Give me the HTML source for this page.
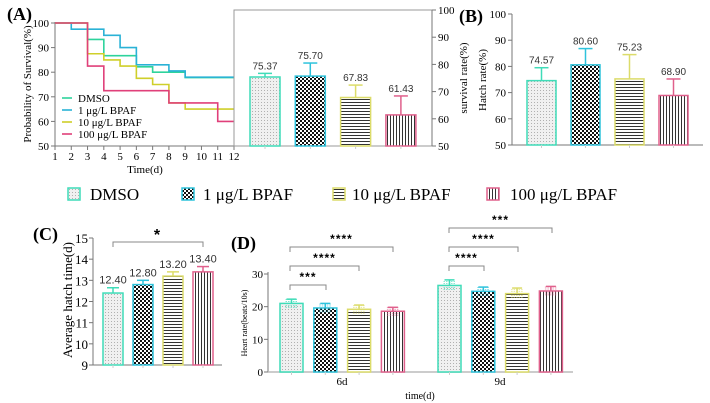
<!DOCTYPE html>
<html><head><meta charset="utf-8"><style>
html,body{margin:0;padding:0;background:#fff;}
svg{display:block;}
.serif{font-family:"Liberation Serif",serif;}
.sans{font-family:"Liberation Sans",sans-serif;}
</style></head><body>
<svg id="fig" width="710" height="403" viewBox="0 0 710 403" xmlns="http://www.w3.org/2000/svg">
<defs>
<pattern id="pDots" width="3" height="3" patternUnits="userSpaceOnUse"><rect width="3" height="3" fill="#f0f0f0"/><rect width="1" height="1" fill="#b0b0b0"/></pattern>
<pattern id="pCheck" width="4" height="4" patternUnits="userSpaceOnUse"><rect width="4" height="4" fill="#fff"/><rect width="2" height="2" fill="#111"/><rect x="2" y="2" width="2" height="2" fill="#111"/></pattern>
<pattern id="pH" width="4" height="3" patternUnits="userSpaceOnUse"><rect width="4" height="3" fill="#fff"/><rect width="4" height="1" fill="#333"/></pattern>
<pattern id="pV" width="3" height="4" patternUnits="userSpaceOnUse"><rect width="3" height="4" fill="#fff"/><rect width="1" height="4" fill="#333"/></pattern>
</defs>
<g id="root"></g>
</svg>
<script>
const groups = ["DMSO","1 μg/L BPAF","10 μg/L BPAF","100 μg/L BPAF"];
const colors = ["#3fdcb8","#2ec3dc","#dcdc6a","#e0608c"];
const lineColors = ["#2ed39c","#2ab2d6","#cfcf2a","#e0407a"];
const fills = ["url(#pDots)","url(#pCheck)","url(#pH)","url(#pV)"];
// KM survival (days, percent)
const kmDMSO = [[1,100],[3,93.3],[4,86.7],[6,82.2],[7,80],[9,77.8],[12,77.8]];
const km1 = [[1,100],[2,97.5],[4,95],[5,90],[6,83],[8,80.5],[9,78],[12,78]];
const km10 = [[1,100],[3,87.5],[4,85],[5,82.5],[6,77.5],[7,75],[8,67.5],[9,65],[12,65]];
const km100 = [[1,100],[3,82.5],[4,72.5],[8,67.5],[11,60],[12,60]];
const kmXTicks = [1,2,3,4,5,6,7,8,9,10,11,12];
const kmYTicks = [50,60,70,80,90,100];
// survival rate inset
const survVals = [75.37,75.70,67.83,61.43];
const survErr = [76.7,80.5,72.4,68.4];
// hatch rate
const hatchVals = [74.57,80.60,75.23,68.90];
const hatchErr = [79.5,86.8,84.5,75.2];
// hatch time
const timeVals = [12.40,12.80,13.20,13.40];
const timeErr = [12.65,13.0,13.4,13.65];
const timeTicks = [9,10,11,12,13,14,15];
// heart rate
const hrCats = ["6d","9d"];
const hr6 = [21.0,19.6,19.2,18.6];
const hr9 = [26.5,24.7,24.0,24.8];
const hr6Err = [22.3,21.0,20.5,19.8];
const hr9Err = [28.2,26.0,25.7,26.2];
const hrTicks = [0,10,20,30];

const NS="http://www.w3.org/2000/svg";
const root=document.getElementById('root');
function mk(tag,attrs,parent,text){const e=document.createElementNS(NS,tag);for(const k in attrs)e.setAttribute(k,attrs[k]);if(text!==undefined)e.textContent=text;(parent||root).appendChild(e);return e;}
function lin(d0,d1,r0,r1){return v=>r0+(v-d0)/(d1-d0)*(r1-r0);}

// ===== Panel A =====
const gA=mk('g',{});


let t=mk('text',{x:7,y:20,'font-size':18,'font-weight':'bold',class:'serif'},gA,'(A)');

const ax=lin(1,12,55,234), ay=lin(50,100,146,23);
mk('line',{x1:55,y1:22,x2:55,y2:146,stroke:'#777'},gA);
mk('line',{x1:55,y1:146,x2:234,y2:146,stroke:'#777'},gA);
kmYTicks.forEach(v=>{mk('line',{x1:51,y1:ay(v),x2:55,y2:ay(v),stroke:'#777'},gA);
 const tt=mk('text',{x:49,y:ay(v)+4,'font-size':11,'text-anchor':'end',class:'serif'},gA,String(v));
 });
kmXTicks.forEach(v=>{mk('line',{x1:ax(v),y1:146,x2:ax(v),y2:150,stroke:'#777'},gA);
 const tt=mk('text',{x:ax(v),y:160,'font-size':11,'text-anchor':'middle',class:'serif'},gA,String(v));
 });
t=mk('text',{x:145,y:173,'font-size':11,'text-anchor':'middle',class:'serif'},gA,'Time(d)');

t=mk('text',{x:0,y:0,'font-size':11,'text-anchor':'middle',class:'serif',transform:'translate(31,84) rotate(-90)'},gA,'Probability of Survival(%)');

[kmDMSO,km1,km10,km100].forEach((s,i)=>{
 let d='M'+ax(s[0][0])+','+ay(s[0][1]);
 for(let k=1;k<s.length;k++){d+=' H'+ax(s[k][0])+' V'+ay(s[k][1]);}
 const p=mk('path',{d:d,fill:'none',stroke:lineColors[i],'stroke-width':1.6},gA);
 
 const ly=98+i*12;
 mk('line',{x1:62,y1:ly,x2:72,y2:ly,stroke:lineColors[i],'stroke-width':1.6},gA);
 const lt=mk('text',{x:78,y:ly+4,'font-size':11,class:'serif'},gA,groups[i]);
 
});
// inset
const sy=lin(50,100,146,10);
mk('rect',{x:234,y:10,width:198,height:136,fill:'#fff',stroke:'#999'},gA);
mk('line',{x1:432,y1:10,x2:432,y2:146,stroke:'#777'},gA);
kmYTicks.forEach(v=>{mk('line',{x1:432,y1:sy(v),x2:436,y2:sy(v),stroke:'#777'},gA);
 const tt=mk('text',{x:438,y:sy(v)+4,'font-size':11,class:'serif'},gA,String(v));
 });
t=mk('text',{x:0,y:0,'font-size':11,'text-anchor':'middle',class:'serif',transform:'translate(467,78) rotate(-90)'},gA,'survival rate(%)');

function bars(g,vals,errs,x0,step,w,yf,base,prefix,fs,labels,capw){
 vals.forEach((v,i)=>{
  const x=x0+i*step, cx=x+w/2;
  const r=mk('rect',{x:x,y:yf(v),width:w,height:yf(base)-yf(v),fill:fills[i],stroke:colors[i],'stroke-width':1.5},g);
  
  mk('line',{x1:cx,y1:yf(v),x2:cx,y2:yf(errs[i]),stroke:colors[i],'stroke-width':1.5},g);
  mk('line',{x1:cx-capw,y1:yf(errs[i]),x2:cx+capw,y2:yf(errs[i]),stroke:colors[i],'stroke-width':1.5},g);
  if(labels){const lt=mk('text',{x:cx,y:yf(errs[i])-4,'font-size':fs,'text-anchor':'middle',fill:'#333',class:'sans'},g,v.toFixed(2));
   }
  mk('line',{x1:cx,y1:yf(base),x2:cx,y2:yf(base)+3,stroke:'#ccc'},g);
 });
}
bars(gA,survVals,survErr,250,45.3,30,sy,50,'survival',10,true,7);

// ===== Panel B =====
const gB=mk('g',{});

t=mk('text',{x:459,y:22,'font-size':18,'font-weight':'bold',class:'serif'},gB,'(B)');

const by=lin(50,100,145,14);
mk('line',{x1:512,y1:14,x2:512,y2:145,stroke:'#777'},gB);
mk('line',{x1:512,y1:145,x2:703,y2:145,stroke:'#777'},gB);
kmYTicks.forEach(v=>{mk('line',{x1:508,y1:by(v),x2:512,y2:by(v),stroke:'#777'},gB);
 const tt=mk('text',{x:506,y:by(v)+4,'font-size':11,'text-anchor':'end',class:'serif'},gB,String(v));
 });
t=mk('text',{x:0,y:0,'font-size':11,'text-anchor':'middle',class:'serif',transform:'translate(486,80) rotate(-90)'},gB,'Hatch rate(%)');

bars(gB,hatchVals,hatchErr,527,44,29,by,50,'hatch',10,true,7);

// ===== Legend =====
const gL=mk('g',{});

const legX=[68,182,333,487], legTX=[90,203,352,510];
groups.forEach((g,i)=>{
 const it=mk('g',{},gL);
 
 mk('rect',{x:legX[i],y:188,width:12,height:12,fill:fills[i],stroke:colors[i],'stroke-width':1.5},it);
 mk('text',{x:legTX[i],y:200,'font-size':17,class:'serif'},it,g);
});

// ===== Panel C =====
const gC=mk('g',{});

t=mk('text',{x:33,y:240,'font-size':18,'font-weight':'bold',class:'serif'},gC,'(C)');

const cy=lin(9,15,365,238);
mk('line',{x1:93,y1:238,x2:93,y2:365,stroke:'#777'},gC);
mk('line',{x1:93,y1:365,x2:222,y2:365,stroke:'#777'},gC);
timeTicks.forEach(v=>{mk('line',{x1:89,y1:cy(v),x2:93,y2:cy(v),stroke:'#777'},gC);
 const tt=mk('text',{x:88,y:cy(v)+5,'font-size':13,'text-anchor':'end',class:'serif'},gC,String(v));
 });
t=mk('text',{x:0,y:0,'font-size':13,'text-anchor':'middle',class:'serif',transform:'translate(72,300) rotate(-90)'},gC,'Average hatch time(d)');

bars(gC,timeVals,timeErr,103,30,20,cy,9,'time',11,true,6);
mk('path',{d:'M113,247 V242 H203 V247',fill:'none',stroke:'#888'},gC);
t=mk('text',{x:157,y:240,'font-size':16,'font-weight':'bold','text-anchor':'middle',class:'sans'},gC,'*');


// ===== Panel D =====
const gD=mk('g',{});

t=mk('text',{x:231,y:249,'font-size':18,'font-weight':'bold',class:'serif'},gD,'(D)');

const dy=lin(0,30,372,274);
mk('line',{x1:268,y1:272,x2:268,y2:372,stroke:'#777'},gD);
mk('line',{x1:268,y1:372,x2:573,y2:372,stroke:'#bbb','stroke-width':1.5},gD);
hrTicks.forEach(v=>{mk('line',{x1:264,y1:dy(v),x2:268,y2:dy(v),stroke:'#777'},gD);
 const tt=mk('text',{x:263,y:dy(v)+4,'font-size':11,'text-anchor':'end',class:'serif'},gD,String(v));
 });
t=mk('text',{x:0,y:0,'font-size':8,'text-anchor':'middle',class:'serif',transform:'translate(247,323) rotate(-90)'},gD,'Heart rate(beats/10s)');

const grpX=[280,438];
[hr6,hr9].forEach((vals,gi)=>{
 const errs=gi===0?hr6Err:hr9Err;
 bars(gD,vals,errs,grpX[gi],33.8,23,dy,0,'hr-'+hrCats[gi],10,false,5);
 vals.forEach((v,i)=>{const cx=grpX[gi]+i*33.8+11.5;
  for(let k=-2;k<=2;k++){mk('line',{x1:cx-6,y1:dy(v+k*0.6),x2:cx+6,y2:dy(v+k*0.6),stroke:colors[i],'stroke-width':0.8,'stroke-dasharray':'1.5 1',opacity:0.8},gD);}
 });
 const lt=mk('text',{x:grpX[gi]+62,y:385,'font-size':11,'text-anchor':'middle',class:'serif'},gD,hrCats[gi]);
 
});
t=mk('text',{x:420,y:399,'font-size':10,'text-anchor':'middle',class:'serif'},gD,'time(d)');

const brk=[[290,393,247,'****'],[290,359,266,'****'],[290,326,285,'***'],[449,552,228,'***'],[449,518,247,'****'],[449,484,266,'****']];
brk.forEach(b=>{
 const p=mk('path',{d:`M${b[0]},${b[2]+5} V${b[2]} H${b[1]} V${b[2]+5}`,fill:'none',stroke:'#888'},gD);
 
 const st=mk('text',{x:(b[0]+b[1])/2,y:b[2]-4,'font-size':12,'font-weight':'bold','text-anchor':'middle','letter-spacing':'1',class:'sans'},gD,b[3]);
 
});
</script>
</body></html>
